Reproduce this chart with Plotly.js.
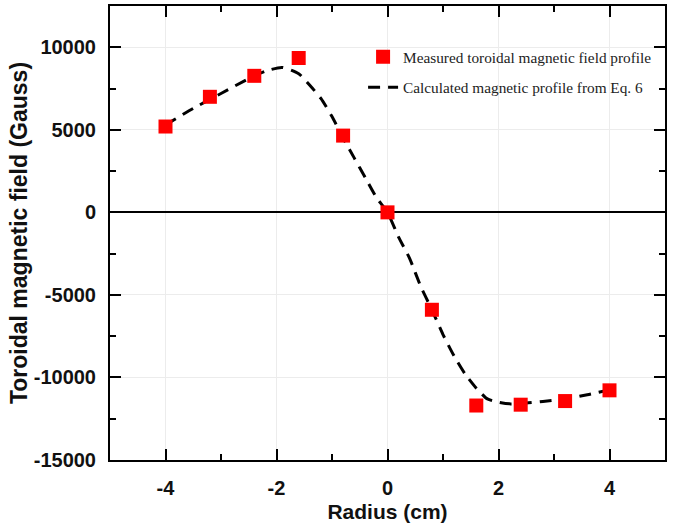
<!DOCTYPE html>
<html>
<head>
<meta charset="utf-8">
<script src="https://cdn.plot.ly/plotly-3.0.1.min.js"></script>
<style>html,body{margin:0;padding:0;background:#fff;}#chart{width:675px;height:524px;}</style>
</head>
<body>
<div id="chart"></div>
<script>
// Measured toroidal magnetic field (red squares)
const radius = [-4, -3.2, -2.4, -1.6, -0.8, 0, 0.8, 1.6, 2.4, 3.2, 4];
const measuredField = [5200, 7000, 8270, 9350, 4650, 0, -5900, -11700, -11650, -11430, -10780];

// Calculated magnetic profile from Eq. 6 (dashed curve)
const calcRadius = [-4, -3.5, -3, -2.5, -2.2, -1.9, -1.6, -1.4, -1.2, -1.0, -0.8, -0.6, -0.4, -0.2, 0,
                    0.2, 0.4, 0.6, 0.8, 1.0, 1.2, 1.4, 1.6, 1.8, 2.0, 2.2, 2.5, 2.8, 3.2, 3.6, 4.0];
const calcField = [5300, 6300, 7200, 8100, 8550, 8780, 8400, 7700, 6900, 5800, 4500, 3300, 2100, 900, 0,
                   -1500, -2800, -4500, -5900, -7400, -8700, -9800, -10650, -11300, -11500, -11600, -11550, -11450, -11300, -11050, -10750];

const xTickVals = [-4, -2, 0, 2, 4];
const yTickVals = [-15000, -10000, -5000, 0, 5000, 10000];

const tickFont = {family: 'Liberation Sans, Arial, sans-serif', size: 20, color: '#111', weight: 'bold'};
const xTitleFont = {family: 'Liberation Sans, Arial, sans-serif', size: 21, color: '#111', weight: 'bold'};
const yTitleFont = {family: 'Liberation Sans, Arial, sans-serif', size: 23, color: '#111', weight: 'bold'};
const legendFont = {family: 'Liberation Serif, Times New Roman, serif', size: 15.3, color: '#222'};

const traces = [
  {
    x: calcRadius, y: calcField, type: 'scatter', mode: 'lines',
    name: 'Calculated magnetic profile from Eq. 6',
    line: {color: '#000', width: 3, dash: '12px,8px', shape: 'spline', smoothing: 0.6},
    legend: 'legend2'
  },
  {
    x: radius, y: measuredField, type: 'scatter', mode: 'markers',
    name: 'Measured toroidal magnetic field profile',
    marker: {symbol: 'square', size: 14, color: '#ff0000'},
    legend: 'legend'
  }
];

const layout = {
  width: 675, height: 524,
  margin: {l: 110, r: 10, t: 6, b: 64},
  paper_bgcolor: '#fff', plot_bgcolor: '#fff',
  showlegend: true,
  legend: {x: 0.456, y: 0.888, xanchor: 'left', yanchor: 'middle', font: legendFont, bgcolor: 'rgba(0,0,0,0)'},
  legend2: {x: 0.456, y: 0.821, xanchor: 'left', yanchor: 'middle', font: legendFont, bgcolor: 'rgba(0,0,0,0)'},
  xaxis: {
    range: [-5, 5], tickvals: xTickVals, ticktext: xTickVals.map(String),
    showline: true, linecolor: '#000', linewidth: 2, mirror: 'ticks',
    ticks: 'inside', ticklen: 11, tickwidth: 2, tickcolor: '#000',
    minor: {dtick: 1, tick0: -5, ticks: 'inside', ticklen: 6, tickwidth: 2, tickcolor: '#000', showgrid: false},
    showgrid: true, gridcolor: '#ececec', gridwidth: 1, zeroline: false,
    tickfont: tickFont, ticklabelstandoff: 9,
    title: {text: 'Radius (cm)', font: xTitleFont, standoff: 6}
  },
  yaxis: {
    range: [-15000, 12500], tickvals: yTickVals, ticktext: yTickVals.map(String),
    showline: true, linecolor: '#000', linewidth: 2, mirror: 'ticks',
    ticks: 'inside', ticklen: 11, tickwidth: 2, tickcolor: '#000',
    minor: {dtick: 2500, tick0: 0, ticks: 'inside', ticklen: 6, tickwidth: 2, tickcolor: '#000', showgrid: false},
    showgrid: true, gridcolor: '#ececec', gridwidth: 1,
    zeroline: true, zerolinecolor: '#000', zerolinewidth: 2,
    tickfont: tickFont, ticklabelstandoff: 8,
    title: {text: 'Toroidal magnetic field (Gauss)', font: yTitleFont, standoff: 0}
  }
};

Plotly.newPlot('chart', traces, layout, {displayModeBar: false, staticPlot: true});
</script>
</body>
</html>
